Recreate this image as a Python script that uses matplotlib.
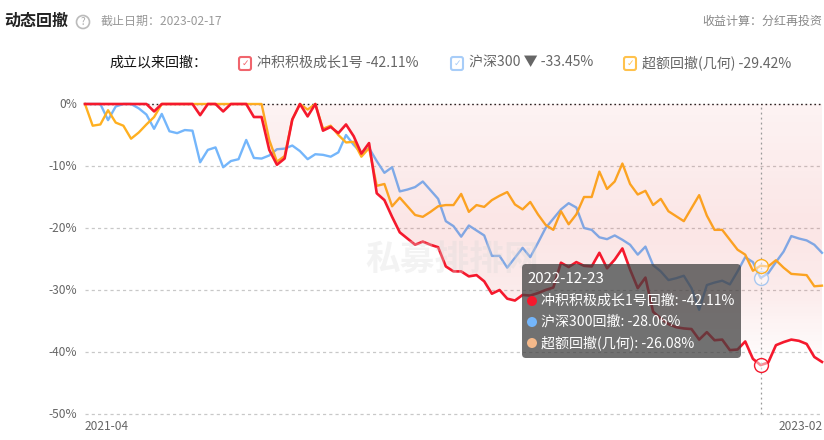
import numpy as np
import matplotlib
matplotlib.use("Agg")
import matplotlib.pyplot as plt
from matplotlib.patches import FancyBboxPatch, Circle

plt.rcParams['font.family'] = ['Noto Sans CJK SC', 'DejaVu Sans']

W, H = 824, 440

# Drawdown series (percent)
fund = [0, 0, 0, 0, 0, 0, 0, 0, 0, -1.2, 0, 0, 0, 0, 0, -1.8, 0, 0, -1.2, 0,
        0, 0, -2.1, -2.1, -7.4, -9.8, -8.8, -2.5, 0, -2, 0, -4.3, -3.7, -4.7, -3.3, -5.2, -8, -6.3, -14.4, -15.5,
        -18.2, -20.7, -21.7, -22.7, -22.2, -22.7, -23.1, -26.2, -27, -27, -27.8, -27.6, -28.6, -30.6, -30, -31.4, -31.7, -30.8, -30.9, -30.5,
        -30, -29.6, -25.6, -26.3, -25.5, -26.1, -26.2, -24, -26.5, -25.1, -23.3, -26.7, -29.7, -28, -33.5, -34.6, -35.5, -36, -36.2, -36.3,
        -38, -36.8, -38.1, -38, -39.7, -39.6, -38.3, -41.1, -42.11, -41.7, -38.9, -38.4, -38, -38.2, -38.7, -40.8, -41.6]
hs300 = [0, 0, 0, -2.6, -0.4, 0, 0, -0.7, -1.7, -4, -1.6, -4.4, -4.7, -4.2, -4.3, -9.4, -7.4, -7, -10.2, -9.2,
         -8.9, -5.8, -8.7, -8.8, -8.3, -7.3, -7.2, -6.7, -7.6, -8.9, -8.1, -8.2, -8.5, -7.8, -5, -6.6, -7.9, -7.1, -9.2, -11.1,
         -10.2, -14.1, -13.8, -13.4, -12.5, -13.9, -15.3, -18.9, -19.7, -21.4, -19.6, -20.4, -21.2, -24.5, -24.5, -26.4, -24.8, -23.2, -24.7, -22.4,
         -20, -18.5, -17, -16, -16.7, -20, -20.3, -21.5, -21.8, -21.2, -21.9, -22.7, -24.3, -23, -26, -27, -28.4, -28.1, -27.7, -29.7,
         -33.2, -29.2, -28.8, -28.5, -29.1, -27, -24.7, -25.5, -28.06, -27.3, -25.5, -23.8, -21.3, -21.7, -22, -22.7, -24]
excess = [0, -3.5, -3.3, -1, -3, -3.5, -5.6, -4.6, -3.3, -2.1, 0, 0, 0, 0, 0, 0, 0, 0, 0, 0,
          0, 0, 0, 0, -5.8, -9.3, -8.4, -2.5, 0, -0.9, 0, -4, -3.5, -5, -6.2, -6.1, -8.5, -7.1, -13.2, -12.9,
          -16.5, -15.1, -16.5, -17.9, -18.2, -17.4, -16.5, -16.3, -16.3, -14.5, -17.4, -16.3, -16.6, -15.5, -14.8, -14.2, -16.2, -17, -15.8, -17.8,
          -19.5, -20.3, -17.3, -19.4, -17.8, -15, -15, -10.9, -13.7, -12.5, -9.6, -12.9, -14.6, -14, -16.3, -15.3, -17.3, -18.1, -18.9, -16.8,
          -14.7, -18, -20.3, -20.3, -21.9, -23.5, -24.3, -26.9, -26.08, -26.2, -25.2, -26.4, -27.4, -27.5, -27.6, -29.4, -29.3]
y_ticks = [0, -10, -20, -30, -40, -50]
y_labels = ['0%', '-10%', '-20%', '-30%', '-40%', '-50%']
tip_idx = 88

RED, BLUE, ORANGE = '#f5192d', '#74b6fb', '#ffb020'

fig = plt.figure(figsize=(W / 100, H / 100), dpi=100)
ax = fig.add_axes([85 / W, 1 - 414 / H, 737 / W, 310 / H])
x = np.arange(len(fund))
ax.set_xlim(0, len(fund) - 1)
ax.set_ylim(-50, 0)
ax.axis('off')

# grid
for t in y_ticks[1:]:
    ax.axhline(t, color='#c8c8c8', lw=0.9, ls=(0, (2.5, 2.5)), zorder=1, clip_on=False)
ax.axhline(0, color='#222222', lw=1, ls=(0, (1.2, 2)), zorder=1, clip_on=False)

ax.plot(x, hs300, color=BLUE, lw=1.7, zorder=2, clip_on=False)
ax.plot(x, excess, color=ORANGE, lw=1.7, zorder=2, clip_on=False)

# pink gradient between zero line and the fund line, over the other two lines
levels = np.linspace(0, -50, 256)
alpha_stops = np.interp(levels, [-50, -43, -30, -20, 0], [0, 0, 0.10, 0.13, 0.06])
grad = np.zeros((256, 1, 4))
grad[..., 0] = 0.88
grad[..., 1] = 0.22
grad[..., 2] = 0.22
grad[:, 0, 3] = alpha_stops
img = ax.imshow(grad, extent=[0, len(fund) - 1, -50, 0], aspect='auto', zorder=3)
poly = ax.fill_between(x, fund, 0, color='none', lw=0)
img.set_clip_path(poly.get_paths()[0], transform=ax.transData)
ax.set_xlim(0, len(fund) - 1)
ax.set_ylim(-50, 0)

ax.plot(x, fund, color=RED, lw=1.9, zorder=4, clip_on=False)

ax.axvline(tip_idx, color='#9a9a9a', lw=0.9, ls=(0, (1.5, 2.5)), zorder=4)
for s, c in ((fund, RED), (hs300, '#a9c8f0'), (excess, ORANGE)):
    ax.plot(tip_idx, s[tip_idx], 'o', ms=10, mfc=(1, 1, 1, 0.5), mec=c, mew=1, zorder=5)

# pixel overlay for all the page text
ov = fig.add_axes([0, 0, 1, 1], zorder=10)
ov.set_xlim(0, W)
ov.set_ylim(H, 0)
ov.axis('off')
ov.patch.set_alpha(0)


def label(px, py, s, size, color='#666666', ha='left', **kw):
    ov.text(px, py, s, fontsize=size * 0.72, color=color, ha=ha, va='center', **kw)


def checkbox(px, py, color):
    ov.add_patch(FancyBboxPatch((px, py), 12, 13, boxstyle='round,pad=0,rounding_size=2',
                                fc='white', ec=color, lw=1.5))
    label(px + 6, py + 6.5, '✓', 9, color=color, ha='center', family='DejaVu Sans')


label(4, 21, '动态回撤', 16, color='#222222', fontweight='bold')
ov.add_patch(Circle((83, 22), 6.5, fc='white', ec='#bbbbbb', lw=1.2))
label(83, 22, '?', 10, color='#aaaaaa', ha='center')
label(101, 21, '截止日期：2023-02-17', 12, color='#999999')
label(822, 21, '收益计算：分红再投资', 12, color='#888888', ha='right')

label(110, 63, '成立以来回撤：', 14, color='#111111', fontweight='medium')
checkbox(239, 57, '#f0656d')
label(257, 63, '冲积积极成长1号 -42.11%', 14)
checkbox(451, 57, '#a8cdf8')
label(469, 63, '沪深300 ▼ -33.45%', 14)
checkbox(624, 57, '#ffc24d')
label(642, 63, '超额回撤(几何) -29.42%', 14)

for t, s in zip(y_ticks, y_labels):
    label(77, 104 - t * 6.2, s, 12, ha='right')
label(85, 427, '2021-04', 12)
label(823, 427, '2023-02', 12, ha='right')

# watermark
ov.text(452, 259, '私募排排网', fontsize=25, fontweight='bold', color='#d8d8d8', alpha=0.3,
        ha='center', va='center')

# tooltip
ov.add_patch(FancyBboxPatch((522, 264), 219, 94, boxstyle='round,pad=0,rounding_size=4',
                            fc=(0.25, 0.25, 0.25, 0.74), ec='none', zorder=6))
tip_rows = [(301, RED, '冲积积极成长1号回撤: -42.11%'),
            (322, '#74b6fb', '沪深300回撤: -28.06%'),
            (343, '#f5b98a', '超额回撤(几何): -26.08%')]
ov.text(527, 279, '2022-12-23', fontsize=15 * 0.72, color='white', va='center', zorder=7)
for py, c, s in tip_rows:
    ov.add_patch(Circle((532, py), 5, fc=c, ec='none', zorder=7))
    ov.text(541, py, s, fontsize=14 * 0.72, color='white', va='center', zorder=7)

fig.savefig('out.png', dpi=100)
